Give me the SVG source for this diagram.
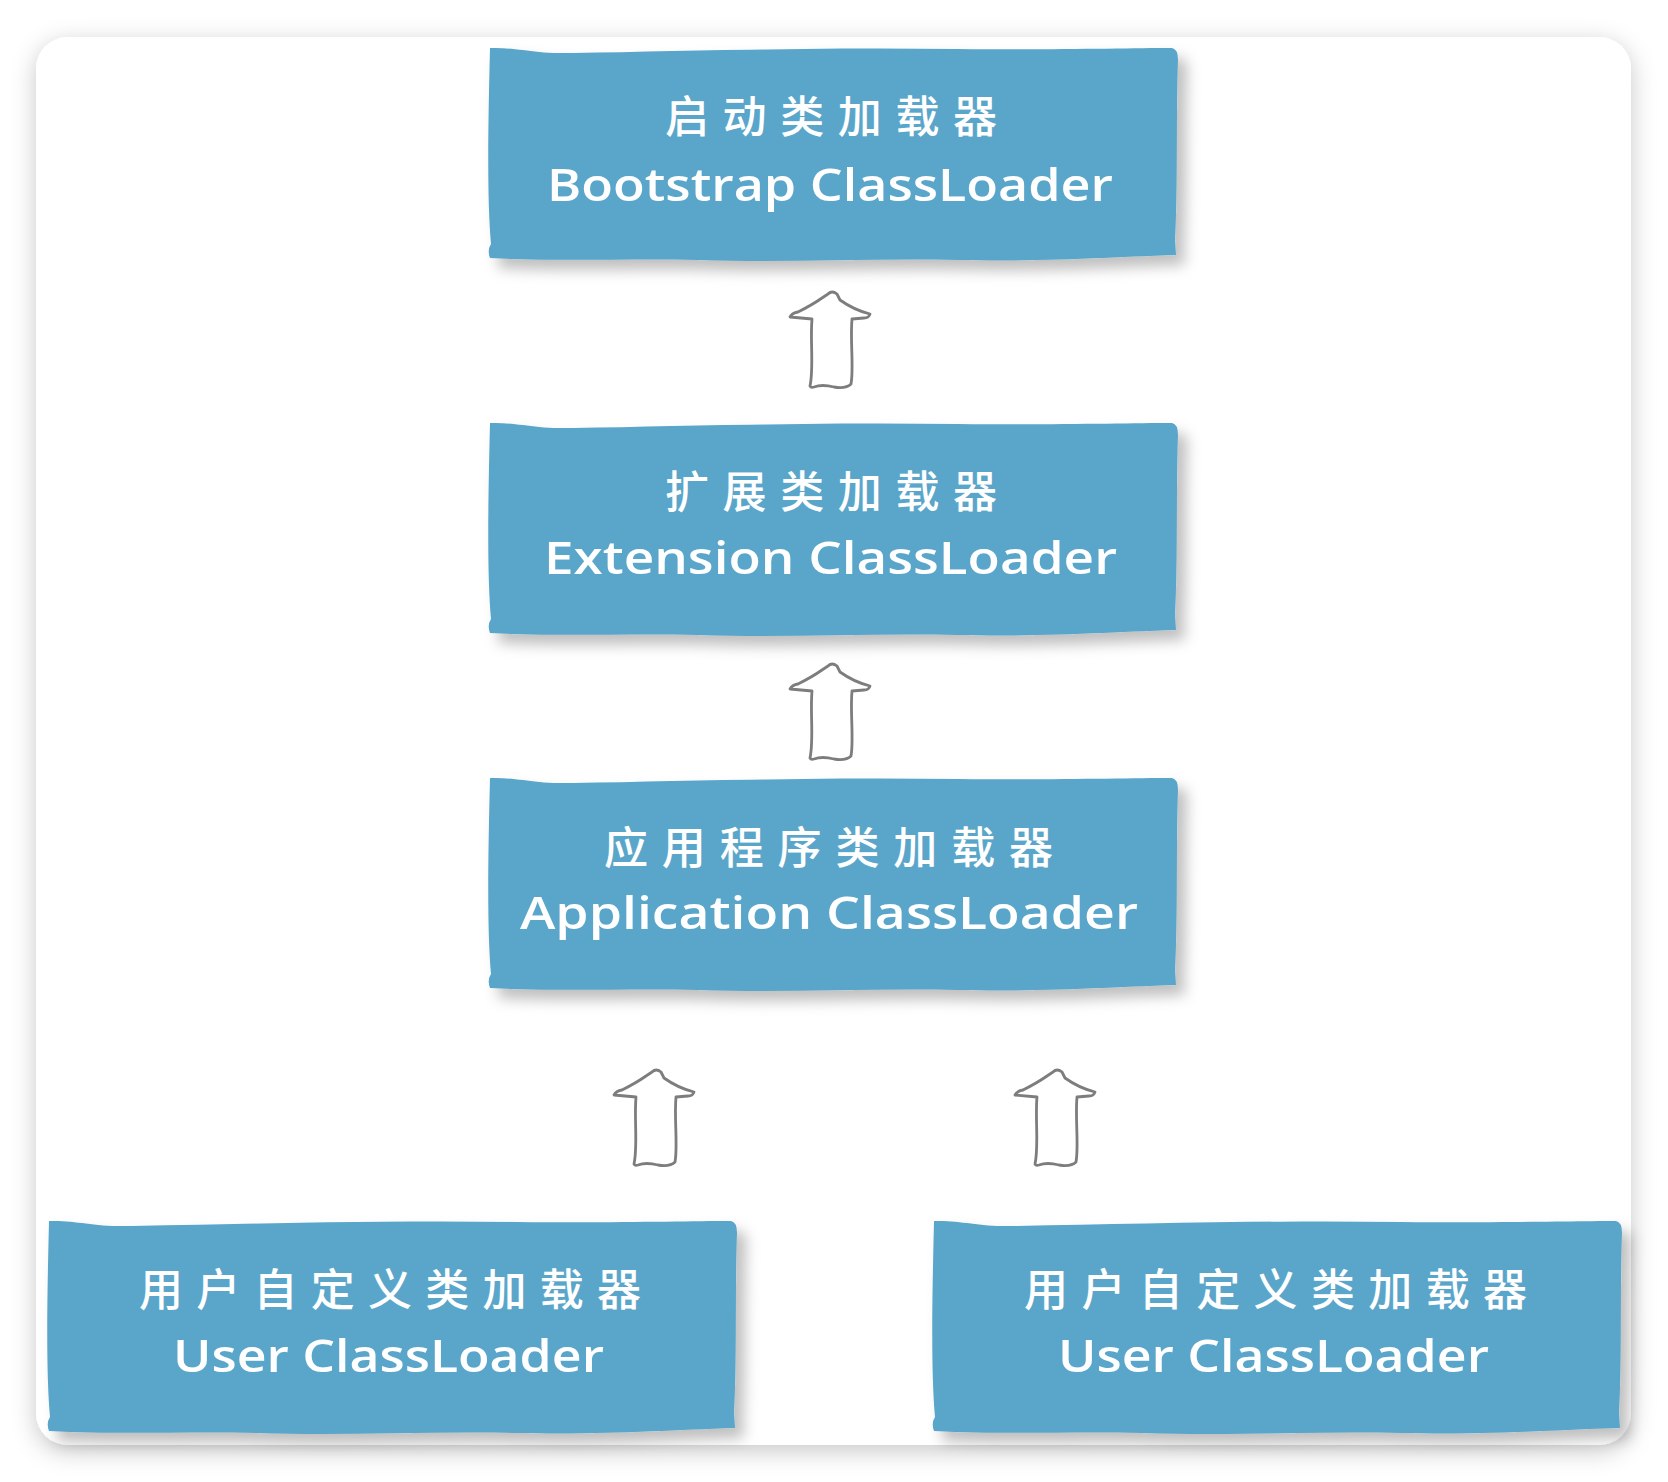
<svg xmlns="http://www.w3.org/2000/svg" xmlns:xlink="http://www.w3.org/1999/xlink" width="1668" height="1482" viewBox="0 0 1668 1482">
<style>
.box{fill:#5aa6ca;filter:url(#bshadow)}
.cjk{font-family:"Noto Sans CJK SC","Noto Sans",sans-serif;font-size:44px;font-weight:500;fill:#ffffff;text-anchor:start}
.lat{font-family:"Open Sans","Liberation Sans",sans-serif;font-size:46px;font-weight:600;fill:#ffffff}
.arrow{fill:#ffffff;stroke:#7d7d7d;stroke-width:2.8;stroke-linejoin:round;stroke-linecap:round}
</style>
<defs>
<filter id="cshadow" x="-10%" y="-10%" width="120%" height="120%">
<feDropShadow dx="0" dy="6" stdDeviation="12" flood-color="#000" flood-opacity="0.22"/>
</filter>
<filter id="bshadow" x="-10%" y="-15%" width="125%" height="140%">
<feDropShadow dx="9" dy="10" stdDeviation="7" flood-color="#000" flood-opacity="0.25"/>
</filter>
<path id="boxshape" d="M2,-2 C30,-3 45,4 85,3 C200,1 330,-3 470,-1 C570,0 640,-2 684,-2 Q690,-1 690,10 C688,60 690,140 687,190 L688,205 C620,207 560,212 470,210 C380,208 300,213 210,210 C140,208 80,212 2,208 Q-1,200 3,194 C-1,150 0,80 2,-2 Z"/>
<path id="arrowshape" d="M42,39 L20,37 Q22,33 28,32 Q42,25 52,18 L58,14 Q62,10 67,14 L70,20 Q84,30 100,34 Q99,38 94,38 L82,39 C80,60 84,88 81,104 Q76,109 64,107 Q52,104 44,107 Q41,108 40,106 C44,88 40,60 42,39 Z"/>
</defs>
<rect x="0" y="0" width="1668" height="1482" fill="#ffffff"/>
<rect x="36" y="37" width="1595" height="1408" rx="32" ry="32" fill="#ffffff" filter="url(#cshadow)"/>

<g id="connectors">
<use xlink:href="#arrowshape" class="arrow" transform="translate(770,280)"/>
<use xlink:href="#arrowshape" class="arrow" transform="translate(770,652)"/>
<use xlink:href="#arrowshape" class="arrow" transform="translate(594,1058)"/>
<use xlink:href="#arrowshape" class="arrow" transform="translate(995,1058)"/>
</g>

<g id="node-bootstrap">
<use xlink:href="#boxshape" class="box" transform="translate(488,50)"/>
<text class="cjk" x="665" y="133" textLength="332" lengthAdjust="spacing">启动类加载器</text>
<text class="lat" x="547" y="201" textLength="566" lengthAdjust="spacingAndGlyphs">Bootstrap ClassLoader</text>
</g>

<g id="node-extension">
<use xlink:href="#boxshape" class="box" transform="translate(488,425)"/>
<text class="cjk" x="665" y="508" textLength="332" lengthAdjust="spacing">扩展类加载器</text>
<text class="lat" x="544" y="574" textLength="573" lengthAdjust="spacingAndGlyphs">Extension ClassLoader</text>
</g>

<g id="node-application">
<use xlink:href="#boxshape" class="box" transform="translate(488,780)"/>
<text class="cjk" x="604" y="864" textLength="449" lengthAdjust="spacing">应用程序类加载器</text>
<text class="lat" x="520" y="929" textLength="618" lengthAdjust="spacingAndGlyphs">Application ClassLoader</text>
</g>

<g id="node-user-1">
<use xlink:href="#boxshape" class="box" transform="translate(47,1223)"/>
<text class="cjk" x="139" y="1306" textLength="502" lengthAdjust="spacing">用户自定义类加载器</text>
<text class="lat" x="173" y="1372" textLength="431" lengthAdjust="spacingAndGlyphs">User ClassLoader</text>
</g>

<g id="node-user-2">
<use xlink:href="#boxshape" class="box" transform="translate(932,1223)"/>
<text class="cjk" x="1024" y="1306" textLength="503" lengthAdjust="spacing">用户自定义类加载器</text>
<text class="lat" x="1058" y="1372" textLength="431" lengthAdjust="spacingAndGlyphs">User ClassLoader</text>
</g>
</svg>
